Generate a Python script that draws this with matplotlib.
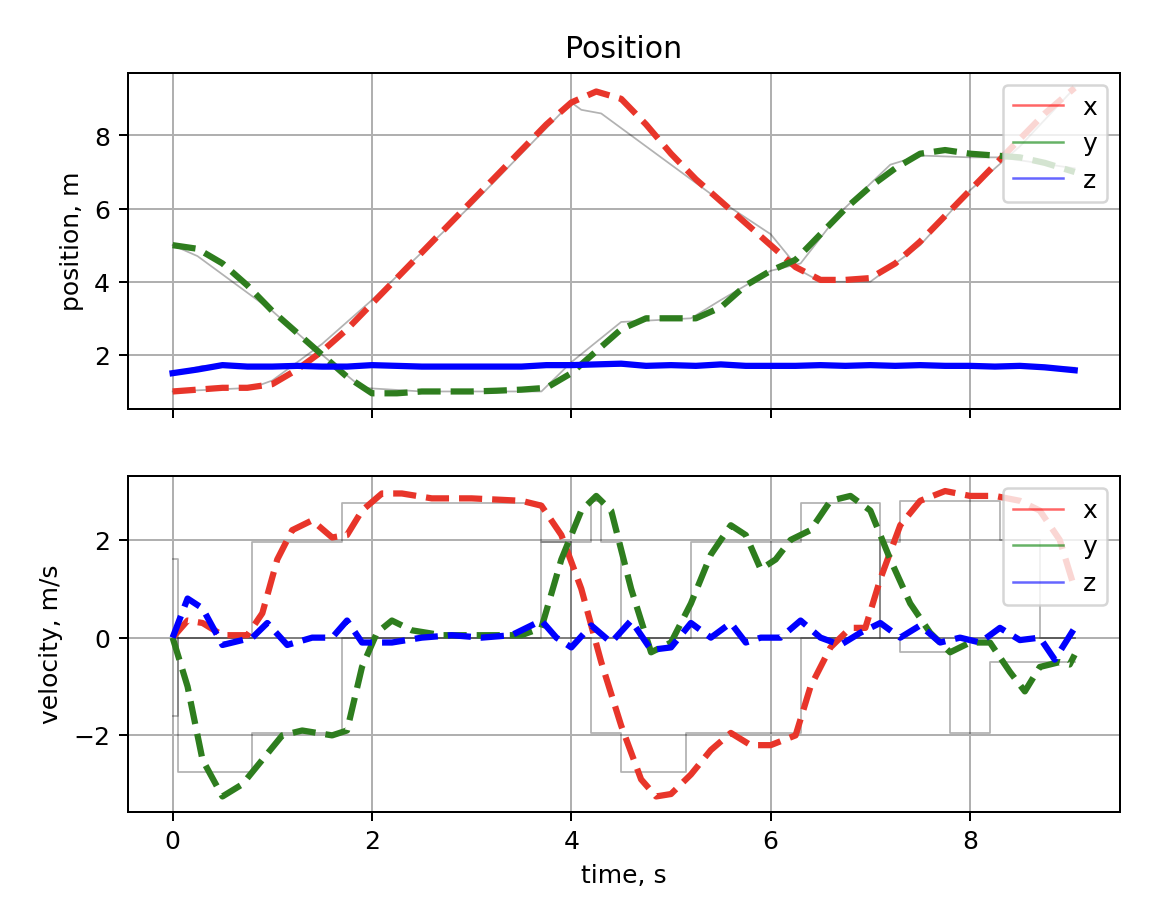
import matplotlib
matplotlib.use("Agg")
import matplotlib.pyplot as plt

# ---- position data ----
tx = [0,0.25,0.5,0.75,1.0,1.25,1.5,1.75,2.0,2.25,2.5,2.75,3.0,3.25,3.5,3.75,4.0,4.25,4.5,4.75,5.0,5.25,5.5,5.75,6.0,6.25,6.5,6.75,7.0,7.25,7.5,7.75,8.0,8.25,8.5,8.75,9.05]
px = [1.0,1.05,1.1,1.1,1.2,1.6,2.1,2.7,3.4,4.1,4.8,5.5,6.2,6.9,7.6,8.3,8.9,9.2,9.0,8.3,7.5,6.8,6.2,5.6,5.0,4.4,4.05,4.05,4.1,4.5,5.1,5.8,6.5,7.2,7.9,8.6,9.3]
py = [5.0,4.9,4.5,3.9,3.2,2.6,2.0,1.4,0.95,0.95,1.0,1.0,1.0,1.02,1.05,1.1,1.5,2.1,2.7,3.0,3.0,3.0,3.3,3.9,4.3,4.6,5.3,6.0,6.6,7.1,7.5,7.6,7.5,7.45,7.4,7.25,7.0]
pz = [1.5,1.6,1.72,1.68,1.68,1.7,1.68,1.68,1.72,1.7,1.68,1.68,1.68,1.68,1.68,1.72,1.72,1.74,1.76,1.7,1.72,1.7,1.74,1.7,1.7,1.7,1.72,1.7,1.72,1.7,1.72,1.7,1.7,1.68,1.7,1.66,1.58]

rtx = [0,0.8,1.0,1.5,2.0,2.5,3.0,3.5,4.0,4.1,4.3,4.5,5.0,5.5,6.0,6.3,6.5,7.0,7.5,8.0,8.5,9.05]
rpx = [1.0,1.1,1.3,2.3,3.5,4.8,6.1,7.5,8.9,8.7,8.6,8.2,7.2,6.2,5.3,4.3,4.0,4.0,5.0,6.5,7.7,9.3]
rty = [0,0.25,0.5,1.0,1.5,1.9,2.5,3.7,4.0,4.5,5.2,5.5,6.0,6.3,6.7,7.2,7.5,8.0,8.3,9.05]
rpy = [5.0,4.7,4.2,3.2,2.0,1.1,1.0,1.0,1.8,2.9,3.0,3.5,4.3,4.5,5.9,7.2,7.45,7.4,7.4,7.1]
rtz = [0,0.3,1.0,2.0,3.0,4.0,5.0,6.0,7.0,8.0,9.05]
rpz = [1.5,1.7,1.7,1.7,1.7,1.7,1.7,1.7,1.7,1.7,1.65]

# ---- velocity data ----
tvx = [0,0.15,0.3,0.5,0.75,0.9,1.05,1.2,1.4,1.6,1.75,1.9,2.1,2.3,2.6,3.0,3.5,3.7,3.9,4.1,4.3,4.5,4.7,4.85,5.0,5.2,5.4,5.6,5.8,6.0,6.25,6.4,6.6,6.8,6.95,7.1,7.3,7.5,7.75,8.0,8.25,8.5,8.7,8.9,9.05]
vx = [0,0.35,0.3,0.05,0.05,0.5,1.6,2.2,2.4,2.05,2.1,2.6,2.95,2.95,2.85,2.85,2.8,2.7,2.1,1.0,-0.5,-1.8,-2.9,-3.25,-3.2,-2.8,-2.3,-1.95,-2.2,-2.2,-2.0,-1.0,-0.2,0.2,0.2,1.2,2.3,2.8,3.0,2.9,2.9,2.8,2.6,2.0,1.0]
tvy = [0,0.15,0.3,0.5,0.7,0.9,1.1,1.3,1.6,1.75,1.9,2.05,2.2,2.4,2.7,3.5,3.7,3.9,4.1,4.25,4.4,4.6,4.8,5.0,5.2,5.4,5.6,5.75,5.9,6.05,6.2,6.4,6.6,6.8,7.0,7.2,7.4,7.6,7.8,8.0,8.2,8.4,8.55,8.7,8.9,9.0,9.05]
vy = [0,-1.0,-2.5,-3.25,-3.0,-2.5,-2.0,-1.9,-2.0,-1.9,-0.6,0.1,0.35,0.15,0.05,0.05,0.2,1.6,2.6,2.9,2.6,1.0,-0.3,-0.1,0.7,1.7,2.3,2.1,1.4,1.6,2.0,2.2,2.8,2.9,2.6,1.6,0.7,0.1,-0.3,-0.1,-0.1,-0.7,-1.1,-0.6,-0.5,-0.55,-0.35]
tvz = [0,0.15,0.3,0.5,0.8,0.95,1.15,1.4,1.6,1.75,1.9,2.2,2.5,2.8,3.1,3.4,3.7,3.85,4.0,4.2,4.4,4.6,4.8,5.0,5.2,5.4,5.6,5.75,5.9,6.1,6.3,6.5,6.7,6.9,7.1,7.3,7.5,7.7,7.9,8.1,8.3,8.5,8.7,8.85,9.05]
vz = [0,0.8,0.6,-0.15,0.0,0.3,-0.15,0.0,0.0,0.35,-0.1,-0.1,0.0,0.05,0.0,0.05,0.35,0.0,-0.2,0.25,-0.1,0.35,-0.25,-0.2,0.3,0.0,0.3,-0.1,0.0,0.0,0.35,0.0,-0.15,0.1,0.3,0.0,0.25,-0.1,0.0,-0.1,0.2,-0.05,0.0,-0.45,0.2]

rvt = [0,0.05,0.8,1.7,3.7,4.0,4.2,4.5,5.15,6.3,7.1,7.3,8.3,8.7,9.05]
rvx = [0,0,1.95,2.75,1.95,0,-1.95,-2.75,-1.95,0,1.95,2.8,2.0,0,0]
rvyt = [0,0.05,0.8,1.7,3.7,4.2,4.3,4.5,5.2,6.3,7.1,7.3,7.8,8.2,8.6,9.05]
rvy = [1.6,-2.75,-1.95,0,1.95,2.8,1.95,0,1.95,2.75,0,-0.3,-1.95,-0.5,-0.5,-0.5]
rvzt = [0,0.05,9.05]
rvz = [-1.6,0,0]

fig, (ax1, ax2) = plt.subplots(2, 1, sharex=True, figsize=(6.44, 5.02), dpi=180)
fig.subplots_adjust(left=0.110, right=0.966, top=0.919, bottom=0.101, hspace=0.2)

g = dict(color='k', lw=0.7, alpha=0.3)
ax1.plot(rtx, rpx, **g); ax1.plot(rty, rpy, **g); ax1.plot(rtz, rpz, **g)
ax1.plot(tx, px, '--', color='#e8352a', lw=2.5)
ax1.plot(tx, py, '--', color='#2e7d1e', lw=2.5)
ax1.plot(tx, pz, '-', color='blue', lw=2.5)
for c, l in [('red', 'x'), ('green', 'y'), ('blue', 'z')]:
    ax1.plot([], [], color=c, lw=1, alpha=0.6, label=l)
ax1.legend(loc='upper right')
ax1.set_title('Position')
ax1.set_ylabel('position, m')
ax1.grid(True)

ax2.step(rvt, rvx, where='post', **g)
ax2.step(rvyt, rvy, where='post', **g)
ax2.step(rvzt, rvz, where='post', **g)
ax2.plot(tvx, vx, '--', color='#e8352a', lw=2.5)
ax2.plot(tvy, vy, '--', color='#2e7d1e', lw=2.5)
ax2.plot(tvz, vz, '--', color='blue', lw=2.5)
for c, l in [('red', 'x'), ('green', 'y'), ('blue', 'z')]:
    ax2.plot([], [], color=c, lw=1, alpha=0.6, label=l)
ax2.legend(loc='upper right')
ax2.set_ylabel('velocity, m/s')
ax2.set_xlabel('time, s')
ax2.grid(True)

fig.savefig('out.png')
